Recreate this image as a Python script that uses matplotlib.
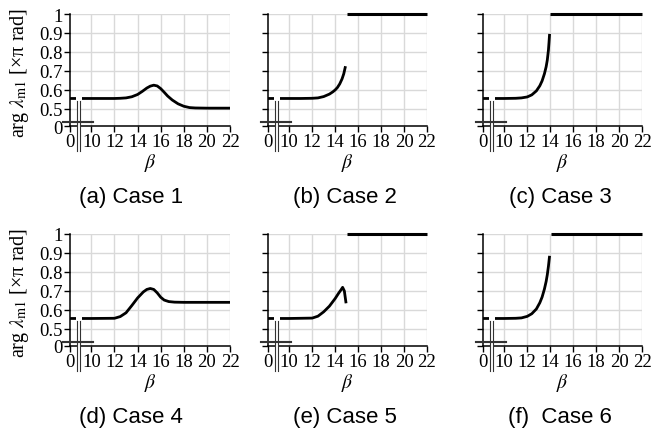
import numpy as np
import matplotlib
matplotlib.use("Agg")
import matplotlib.pyplot as plt
from matplotlib.patches import Rectangle

plt.rcParams['font.family'] = ['Liberation Serif', 'DejaVu Serif']
plt.rcParams['mathtext.fontset'] = 'stix'

# data (beta, arg lambda_m1 in units of pi)
case1_beta = [0, 10, 12, 12.5, 13, 13.5, 14, 14.4, 14.8, 15.1, 15.4, 15.7, 16.0, 16.3, 16.6, 17.0, 17.5, 18.0, 18.5, 19, 20, 22]
case1_arg = [0.555, 0.555, 0.555, 0.556, 0.558, 0.564, 0.576, 0.592, 0.61, 0.62, 0.625, 0.621, 0.607, 0.588, 0.568, 0.547, 0.527, 0.514, 0.507, 0.505, 0.504, 0.504]

case2_beta = [0, 10, 11, 12, 12.5, 13, 13.5, 13.8, 14, 14.2, 14.4, 14.6, 14.75, 14.9]
case2_arg = [0.555, 0.555, 0.555, 0.556, 0.558, 0.565, 0.578, 0.59, 0.6, 0.613, 0.632, 0.658, 0.685, 0.725]
case2_top = [15.0, 22]

case3_beta = [0, 10, 11, 11.5, 12, 12.4, 12.8, 13.1, 13.3, 13.5, 13.65, 13.75, 13.85, 13.9, 13.95]
case3_arg = [0.555, 0.555, 0.556, 0.558, 0.563, 0.574, 0.595, 0.622, 0.648, 0.685, 0.722, 0.757, 0.81, 0.85, 0.895]
case3_top = [14.0, 22]

case4_beta = [0, 10, 12, 12.5, 13, 13.5, 14, 14.5, 14.8, 15.1, 15.4, 15.7, 16, 16.3, 16.7, 17.2, 18, 22]
case4_arg = [0.555, 0.555, 0.556, 0.565, 0.585, 0.623, 0.663, 0.695, 0.708, 0.713, 0.708, 0.69, 0.667, 0.652, 0.644, 0.641, 0.64, 0.64]

case5_beta = [0, 10, 12, 12.5, 13, 13.5, 14, 14.3, 14.5, 14.65, 14.8, 14.95]
case5_arg = [0.555, 0.555, 0.557, 0.567, 0.59, 0.62, 0.66, 0.688, 0.705, 0.719, 0.7, 0.635]
case5_top = [15.05, 22]

case6_beta = [0, 10, 11, 11.5, 12, 12.4, 12.8, 13.1, 13.3, 13.5, 13.65, 13.75, 13.85, 13.95]
case6_arg = [0.555, 0.555, 0.556, 0.558, 0.566, 0.58, 0.605, 0.638, 0.668, 0.71, 0.75, 0.785, 0.83, 0.885]
case6_top = [14.05, 22]

captions = ['(a) Case 1', '(b) Case 2', '(c) Case 3', '(d) Case 4', '(e) Case 5', '(f)  Case 6']
x_ticks = [0, 10, 12, 14, 16, 18, 20, 22]
y_ticks = [0, 0.5, 0.6, 0.7, 0.8, 0.9, 1]
y_ticklabels = ['0', '0.5', '0.6', '0.7', '0.8', '0.9', '1']

panels = [
    (case1_beta, case1_arg, None),
    (case2_beta, case2_arg, case2_top),
    (case3_beta, case3_arg, case3_top),
    (case4_beta, case4_arg, None),
    (case5_beta, case5_arg, case5_top),
    (case6_beta, case6_arg, case6_top),
]

# broken axes: squeeze 0..10 on x and 0..0.5 on y
X0 = 8.15
def fx(b):
    b = np.asarray(b, dtype=float)
    return np.where(b < 10, X0 + b * (10 - X0) / 10, b)
def fx_inv(d):
    d = np.asarray(d, dtype=float)
    return np.where(d < 10, (d - X0) * 10 / (10 - X0), d)
Y0 = 0.41
def fy(v):
    v = np.asarray(v, dtype=float)
    return np.where(v < 0.5, Y0 + v * (0.5 - Y0) / 0.5, v)
def fy_inv(d):
    d = np.asarray(d, dtype=float)
    return np.where(d < 0.5, (d - Y0) * 0.5 / (0.5 - Y0), d)

fig = plt.figure(figsize=(6.67, 4.35), dpi=100)

W, H = 667.0, 435.0
lefts = [70, 268, 483]
widths = [160, 159, 159]
cap_x = [131, 345, 560]
tops = [15, 235]
ah = 112

grid_c = '#d9d9d9'
brk_c = '#333333'

for i, (bx, by, top) in enumerate(panels):
    r, c = divmod(i, 3)
    ax = fig.add_axes([lefts[c] / W, 1 - (tops[r] + ah) / H, widths[c] / W, ah / H])
    ax.set_xscale('function', functions=(fx, fx_inv))
    ax.set_yscale('function', functions=(fy, fy_inv))
    ax.set_xlim(0, 22)
    ax.set_ylim(0, 1)

    for g in x_ticks[1:]:
        ax.axvline(g, color=grid_c, lw=1, zorder=0)
    for g in y_ticks[1:]:
        ax.axhline(g, color=grid_c, lw=1, zorder=0)

    ax.plot(bx, by, color='black', lw=2.0, solid_capstyle='butt', zorder=3)
    if top is not None:
        ax.plot(top, [1, 1], color='black', lw=2.2, solid_capstyle='butt', zorder=3, clip_on=False)

    ax.set_xticks(x_ticks)
    ax.set_xticklabels([str(t) for t in x_ticks])
    ax.set_yticks(y_ticks)
    if c == 0:
        ax.set_yticklabels(y_ticklabels)
    else:
        ax.set_yticklabels([])
    ax.minorticks_off()
    ax.tick_params(direction='out', length=4, width=1, labelsize=13.5, pad=1)
    for s in ['top', 'right']:
        ax.spines[s].set_visible(False)
    for s in ['left', 'bottom']:
        ax.spines[s].set_linewidth(1.1)

    # break marks
    tr = ax.transAxes
    ax.add_patch(Rectangle((0.036, 0.19), 0.038, 0.12, transform=tr, facecolor='white',
                           edgecolor='none', clip_on=False, zorder=5))
    ax.add_patch(Rectangle((-0.05, 0.033), 0.194, 0.016, transform=tr, facecolor='white',
                           edgecolor='none', clip_on=False, zorder=5))
    ax.add_patch(Rectangle((0.046, -0.223), 0.0165, 0.446, transform=tr, facecolor='white',
                           edgecolor='none', clip_on=False, zorder=5))
    for yy in [0.033, 0.049]:
        ax.plot([-0.05, 0.144], [yy, yy], transform=tr, color=brk_c, lw=0.8, clip_on=False, zorder=6)
    for xx in [0.046, 0.0625]:
        ax.plot([xx, xx], [-0.223, 0.223], transform=tr, color=brk_c, lw=0.8, clip_on=False, zorder=6)

    ax.text(0.5, -0.32, r'$\beta$', transform=tr, ha='center', va='center', fontsize=14)
    fig.text(cap_x[c] / W, 1 - (tops[r] + ah + 71) / H, captions[i], ha='center', va='center',
             fontsize=16, family='Liberation Sans')

    if c == 0:
        fig.text(20 / W, 1 - (tops[r] + 58) / H, r'arg $\lambda_{\mathrm{m1}}$ [×π rad]',
                 rotation=90, ha='center', va='center', fontsize=14.5)

fig.savefig('out.png', dpi=100)
